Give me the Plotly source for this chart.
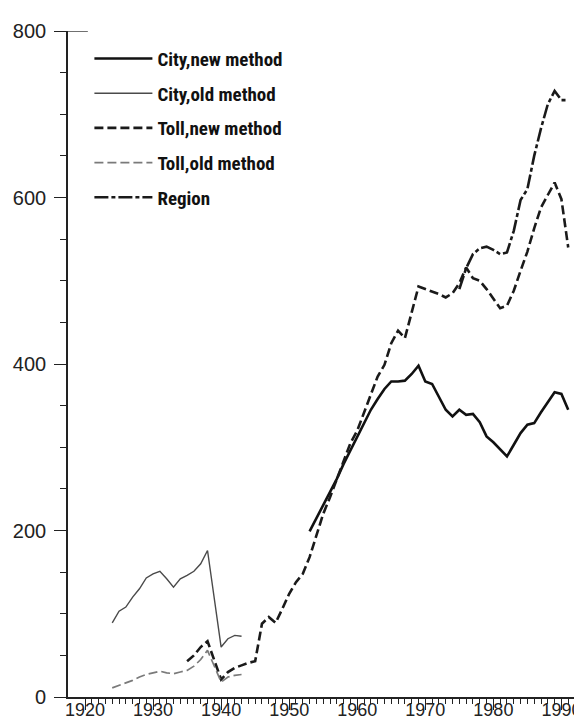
import plotly.graph_objects as go

# ---- data ----
city_old_years = list(range(1924, 1944))
city_old = [89, 103, 108, 120, 130, 143, 148, 151, 142, 132, 142, 146, 151, 160, 176, 118, 60, 70, 74, 73]

toll_old_years = list(range(1924, 1944))
toll_old = [11, 14, 17, 20, 24, 27, 29, 31, 29, 28, 30, 32, 37, 45, 56, 37, 18, 24, 26, 27]

toll_new_years = list(range(1935, 1992))
toll_new = [43, 50, 60, 67, 44, 21, 30, 35, 38, 41, 43, 88, 96, 89, 106, 124, 138, 148, 168, 195,
            220, 240, 262, 285, 305, 320, 342, 365, 385, 399, 425, 440, 431, 462, 493, 490, 487, 484,
            480, 485, 497, 516, 503, 500, 490, 478, 467, 470, 488, 512, 535, 563, 588, 603, 618, 598, 540]

city_new_years = list(range(1953, 1992))
city_new = [199, 215, 230, 246, 262, 280, 296, 312, 328, 345, 358, 370, 379, 379, 380, 388, 398, 379,
            376, 360, 345, 337, 345, 339, 340, 330, 313, 306, 297, 289, 303, 317, 327, 329, 342, 354,
            366, 364, 345]

region_years = list(range(1975, 1992))
region = [490, 515, 532, 539, 541, 537, 532, 534, 560, 597, 610, 650, 683, 712, 728, 717, 717]

x_ticks = [1920, 1930, 1940, 1950, 1960, 1970, 1980, 1990]
x_minor = [y for y in range(1921, 1992) if y % 10 != 0]
y_ticks = [0, 200, 400, 600, 800]

fig = go.Figure()

series = [
    ("City,new method", city_new_years, city_new, dict(color="#111111", width=2.6)),
    ("City,old method", city_old_years, city_old, dict(color="#4a4a4a", width=1.4)),
    ("Toll,new method", toll_new_years, toll_new, dict(color="#1a1a1a", width=2.6, dash="9px,4px")),
    ("Toll,old method", toll_old_years, toll_old, dict(color="#7a7a7a", width=1.7, dash="9px,4px")),
    ("Region", region_years, region, dict(color="#1a1a1a", width=2.6, dash="14px,3px,4px,3px")),
]
for i, (name, xs, ys, line) in enumerate(series):
    fig.add_trace(go.Scatter(x=xs, y=ys, mode="lines", name=name, line=line,
                             legendgroup=f"g{i}"))

tick_font = dict(family="Liberation Sans, Arial, sans-serif", size=18, color="#222222")

fig.update_layout(
    width=582, height=724,
    margin=dict(l=60, r=0, t=23, b=35),
    paper_bgcolor="white", plot_bgcolor="white",
    showlegend=True,
    legend=dict(
        x=0.041, y=0.987, xanchor="left", yanchor="top",
        bgcolor="rgba(0,0,0,0)",
        font=dict(family="Liberation Sans Narrow, Arial Narrow, Roboto Condensed, Liberation Sans, sans-serif",
                  size=19, color="#111111", weight="bold"),
        tracegroupgap=7,
        itemwidth=58,
    ),
    xaxis=dict(
        range=[1917.5, 1994.2],
        tickmode="array", tickvals=x_ticks, ticktext=[str(v) for v in x_ticks],
        ticks="outside", ticklen=11, tickwidth=1.3, tickcolor="#222",
        minor=dict(tickmode="array", tickvals=x_minor, ticks="outside", ticklen=5,
                   tickwidth=1, tickcolor="#222"),
        showline=True, linecolor="#222", linewidth=1.6,
        showgrid=False, zeroline=False,
        tickfont=tick_font,
    ),
    yaxis=dict(
        range=[0, 800],
        tickmode="array", tickvals=y_ticks, ticktext=[str(v) for v in y_ticks],
        ticks="outside", ticklen=12, tickwidth=1.3, tickcolor="#222",
        ticklabelstandoff=4,
        minor=dict(dtick=50, tick0=0, ticks="outside", ticklen=6, tickwidth=1, tickcolor="#222"),
        showline=True, linecolor="#222", linewidth=1.6,
        showgrid=False, zeroline=False,
        tickfont=dict(family="Liberation Sans, Arial, sans-serif", size=20, color="#222222"),
    ),
)

# pull the year labels up close to the tick marks
try:
    fig.layout.xaxis.ticklabelstandoff = -15
except ValueError:
    fig.update_layout(margin=dict(b=46))

# small cap line at the top of the y axis
fig.add_shape(type="line", xref="x domain", yref="y", x0=0, x1=0.038, y0=800, y1=800,
              line=dict(color="#222", width=1.3))

fig.write_html("out.html")
